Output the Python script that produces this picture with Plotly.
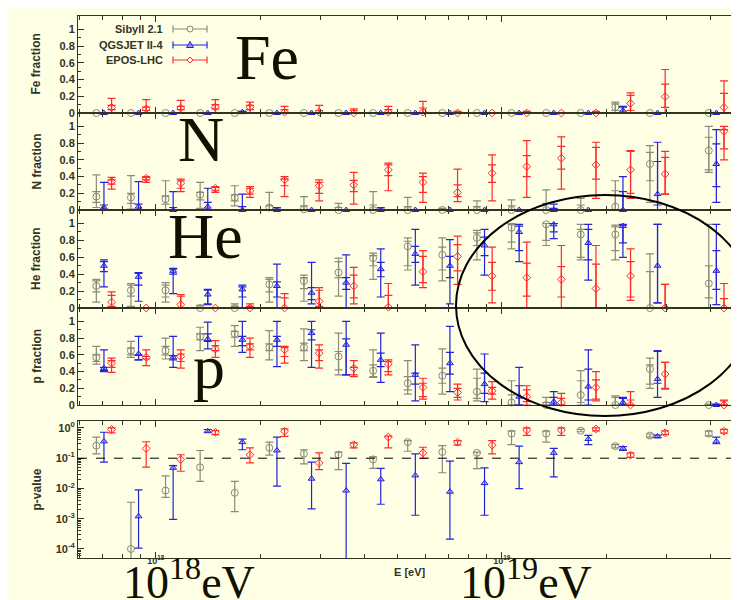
import plotly.graph_objects as go
from plotly.subplots import make_subplots

# ---------------- data ----------------
LOG_E = [17.85, 17.95, 18.05, 18.15, 18.25, 18.35, 18.45, 18.55, 18.65,
         18.75, 18.85, 18.95, 19.05, 19.15, 19.25, 19.35, 19.45, 19.62]
MODELS = ["Sibyll 2.1", "QGSJET II-4", "EPOS-LHC"]
PANELS = ["Fe", "N", "He", "p"]

# each entry: (value, outer_low, outer_high, inner_low, inner_high)
FE_SIBYLL = [(0, 0, 0, 0, 0)] * 15 + [(0.07, 0.0, 0.13, 0.03, 0.11), (0, 0, 0, 0, 0), (0, 0, 0, 0, 0)]
FE_QGSJET = [(0, 0, 0, 0, 0)] * 4 + [(0.01, 0, 0.02, 0, 0.02)] + [(0, 0, 0, 0, 0)] * 10 + \
            [(0.03, 0.0, 0.08, 0.0, 0.07), (0, 0, 0, 0, 0), (0, 0, 0, 0, 0)]
FE_EPOS = [(0.067, 0, 0.175, 0.04, 0.09), (0.05, 0, 0.16, 0.03, 0.07), (0.06, 0, 0.15, 0.04, 0.08),
           (0.07, 0, 0.16, 0.05, 0.10), (0.07, 0, 0.13, 0.04, 0.09), (0.01, 0, 0.08, 0, 0.04),
           (0.01, 0, 0.09, 0, 0.03), (0.0, 0, 0.05, 0, 0.03), (0.01, 0, 0.08, 0, 0.04),
           (0.01, 0, 0.14, 0, 0.06), (0, 0, 0.02, 0, 0.01), (0, 0, 0, 0, 0),
           (0, 0, 0.02, 0, 0.01), (0, 0, 0, 0, 0), (0, 0, 0.02, 0, 0.01),
           (0.115, 0.0, 0.24, 0.03, 0.21), (0.195, 0.0, 0.52, 0.067, 0.345), (0.067, 0, 0.385, 0, 0.234)]

N_SIBYLL = [(0.16, 0.03, 0.42, 0.09, 0.22), (0.15, 0.01, 0.41, 0.08, 0.20), (0.13, 0.0, 0.35, 0.07, 0.17),
            (0.18, 0.02, 0.33, 0.12, 0.21), (0.15, 0.05, 0.29, 0.11, 0.18), (0.03, 0.0, 0.21, 0.0, 0.05),
            (0.01, 0, 0.16, 0, 0.05), (0.0, 0, 0.08, 0, 0.03), (0.0, 0, 0.22, 0, 0.06),
            (0.0, 0, 0.15, 0, 0.04), (0, 0, 0.02, 0, 0.01), (0, 0, 0.11, 0, 0.04),
            (0, 0, 0.12, 0, 0.05), (0, 0, 0.24, 0, 0.08), (0, 0, 0.14, 0, 0.06),
            (0.04, 0, 0.35, 0.0, 0.23), (0.55, 0.09, 0.77, 0.35, 0.69), (0.71, 0.45, 1.0, 0.48, 0.87)]
N_QGSJET = [(0.03, 0, 0.33, 0, 0.06), (0.04, 0, 0.34, 0, 0.07), (0.0, 0, 0.22, 0, 0.03),
            (0.04, 0, 0.26, 0, 0.09), (0.0, 0, 0.19, 0, 0.04), (0, 0, 0.03, 0, 0.01),
            (0, 0, 0, 0, 0), (0, 0, 0, 0, 0), (0, 0, 0.03, 0, 0.01),
            (0, 0, 0, 0, 0), (0, 0, 0, 0, 0), (0, 0, 0, 0, 0),
            (0, 0, 0, 0, 0), (0, 0, 0.07, 0, 0.02), (0, 0, 0, 0, 0),
            (0, 0, 0.40, 0, 0.22), (0.19, 0.0, 0.81, 0.06, 0.58), (0.55, 0.09, 0.96, 0.28, 0.79)]
N_EPOS = [(0.34, 0.25, 0.39, 0.31, 0.36), (0.38, 0.33, 0.40, 0.36, 0.39), (0.32, 0.22, 0.37, 0.26, 0.35),
          (0.26, 0.21, 0.28, 0.23, 0.27), (0.23, 0.15, 0.28, 0.19, 0.26), (0.36, 0.16, 0.40, 0.29, 0.37),
          (0.29, 0.11, 0.36, 0.20, 0.33), (0.30, 0.07, 0.45, 0.22, 0.355), (0.48, 0.23, 0.56, 0.41, 0.54),
          (0.33, 0.09, 0.44, 0.21, 0.40), (0.21, 0.10, 0.49, 0.16, 0.30), (0.44, 0.11, 0.66, 0.33, 0.54),
          (0.52, 0.15, 0.83, 0.40, 0.65), (0.62, 0.25, 0.875, 0.49, 0.76), (0.54, 0.14, 0.81, 0.37, 0.75),
          (0.48, 0.14, 0.71, 0.20, 0.70), (0.43, 0.19, 0.70, 0.19, 0.63), (0.94, 0.60, 1.0, 0.73, 0.96)]

HE_SIBYLL = [(0.26, 0.07, 0.34, 0.19, 0.32), (0.21, 0.02, 0.29, 0.14, 0.27), (0.21, 0.07, 0.30, 0.13, 0.27),
             (0, 0, 0.03, 0, 0.01), (0, 0, 0.05, 0, 0.02), (0.28, 0.07, 0.36, 0.19, 0.34),
             (0.32, 0.08, 0.39, 0.23, 0.36), (0.42, 0.14, 0.59, 0.36, 0.55), (0.59, 0.34, 0.65, 0.50, 0.62),
             (0.73, 0.45, 0.83, 0.50, 0.79), (0.63, 0.32, 0.83, 0.45, 0.72), (0.83, 0.57, 0.92, 0.74, 0.89),
             (0.95, 0.70, 1.0, 0.78, 0.99), (0.99, 0.74, 1.0, 0.80, 1.0), (0.87, 0.57, 0.99, 0.60, 0.93),
             (0.87, 0.57, 0.98, 0.68, 0.96), (0.0, 0.0, 0.64, 0.0, 0.43), (0.29, 0.0, 0.99, 0.12, 0.50)]
HE_QGSJET = [(0.50, 0.25, 0.57, 0.43, 0.55), (0.37, 0.08, 0.42, 0.27, 0.41), (0.44, 0.17, 0.47, 0.40, 0.46),
             (0.16, 0.04, 0.22, 0.05, 0.21), (0.22, 0.0, 0.27, 0.13, 0.25), (0.26, 0.0, 0.52, 0.13, 0.31),
             (0.18, 0.05, 0.54, 0.10, 0.24), (0.30, 0.0, 0.63, 0.22, 0.36), (0.46, 0.13, 0.70, 0.37, 0.54),
             (0.64, 0.27, 0.93, 0.54, 0.73), (0.50, 0.05, 0.81, 0.36, 0.61), (0.74, 0.39, 0.93, 0.62, 0.84),
             (0.90, 0.55, 0.99, 0.68, 0.97), (0.99, 0.82, 1.0, 0.90, 1.0), (0.77, 0.33, 0.99, 0.57, 0.93),
             (0.97, 0.60, 0.99, 0.77, 0.98), (0.50, 0.06, 0.99, 0.06, 0.99), (0.44, 0.04, 0.99, 0.22, 0.68)]
HE_EPOS = [(0.07, 0.01, 0.19, 0.02, 0.15), (0, 0, 0, 0, 0), (0.04, 0, 0.16, 0, 0.14),
           (0, 0, 0, 0, 0), (0, 0, 0.05, 0, 0.02), (0, 0, 0.17, 0, 0.12),
           (0.08, 0, 0.24, 0.02, 0.21), (0.26, 0.05, 0.48, 0.12, 0.39), (0.01, 0, 0.29, 0, 0.15),
           (0.43, 0.24, 0.68, 0.30, 0.61), (0.61, 0.28, 0.85, 0.44, 0.75), (0.38, 0.06, 0.72, 0.21, 0.54),
           (0.36, 0.0, 0.78, 0.14, 0.53), (0.34, 0.0, 0.74, 0.13, 0.49), (0.23, 0.0, 0.74, 0.0, 0.52),
           (0.38, 0.09, 0.70, 0.13, 0.55), (0, 0, 0.28, 0, 0.28), (0, 0, 0.29, 0, 0.11)]

P_SIBYLL = [(0.57, 0.49, 0.70, 0.52, 0.60), (0.65, 0.57, 0.76, 0.60, 0.68), (0.65, 0.55, 0.80, 0.60, 0.70),
            (0.82, 0.65, 0.93, 0.78, 0.85), (0.85, 0.70, 0.95, 0.81, 0.88), (0.69, 0.54, 0.89, 0.65, 0.73),
            (0.69, 0.53, 0.91, 0.65, 0.74), (0.58, 0.36, 0.86, 0.42, 0.64), (0.41, 0.33, 0.66, 0.34, 0.48),
            (0.26, 0.13, 0.53, 0.18, 0.34), (0.35, 0.13, 0.67, 0.26, 0.44), (0.16, 0.05, 0.43, 0.08, 0.32),
            (0.03, 0.0, 0.29, 0.0, 0.12), (0.0, 0, 0.09, 0, 0.03), (0.12, 0.0, 0.41, 0.03, 0.29),
            (0, 0, 0.11, 0, 0.09), (0.43, 0.20, 0.56, 0.25, 0.48), (0, 0, 0.01, 0, 0.005)]
P_QGSJET = [(0.44, 0.40, 0.66, 0.41, 0.45), (0.61, 0.54, 0.82, 0.54, 0.60), (0.57, 0.45, 0.82, 0.54, 0.59),
            (0.79, 0.67, 0.99, 0.76, 0.85), (0.78, 0.63, 1.0, 0.71, 0.82), (0.78, 0.46, 1.0, 0.70, 0.82),
            (0.86, 0.45, 1.0, 0.78, 0.90), (0.72, 0.36, 1.0, 0.36, 0.79), (0.54, 0.27, 0.86, 0.46, 0.62),
            (0.36, 0.05, 0.72, 0.25, 0.38), (0.50, 0.16, 0.94, 0.37, 0.63), (0.25, 0.04, 0.61, 0.14, 0.38),
            (0.10, 0.0, 0.45, 0.0, 0.23), (0.04, 0.0, 0.16, 0.0, 0.09), (0.22, 0.0, 0.66, 0.06, 0.43),
            (0.03, 0.0, 0.09, 0, 0.08), (0.31, 0.09, 0.65, 0.26, 0.64), (0, 0, 0.01, 0, 0.005)]
P_EPOS = [(0.50, 0.39, 0.56, 0.45, 0.53), (0.57, 0.47, 0.66, 0.55, 0.58), (0.58, 0.44, 0.66, 0.52, 0.61),
          (0.67, 0.57, 0.77, 0.65, 0.71), (0.70, 0.57, 0.80, 0.66, 0.73), (0.66, 0.50, 0.70, 0.58, 0.69),
          (0.62, 0.44, 0.72, 0.53, 0.66), (0.44, 0.34, 0.53, 0.36, 0.45), (0.49, 0.36, 0.54, 0.40, 0.52),
          (0.21, 0.07, 0.32, 0.10, 0.26), (0.15, 0.06, 0.25, 0.09, 0.20), (0.17, 0.07, 0.28, 0.13, 0.21),
          (0.10, 0.0, 0.23, 0.04, 0.18), (0.03, 0.0, 0.14, 0.0, 0.08), (0.21, 0.05, 0.40, 0.07, 0.30),
          (0, 0, 0.16, 0, 0.06), (0.37, 0.19, 0.51, 0.20, 0.51), (0, 0, 0.06, 0, 0.05)]

# p-value: (value, low, high)
PV_SIBYLL = [(0.26, 0.14, 0.5), (1e-4, 1e-5, 3.5e-3), (8.5e-3, 5.1e-3, 0.026), (0.05, 0.017, 0.18),
             (7.2e-3, 1.7e-3, 0.017), (0.22, 0.126, 0.34), (0.14, 0.065, 0.19), (0.13, 0.042, 0.16),
             (0.091, 0.046, 0.11), (0.34, 0.17, 0.38), (0.16, 0.033, 0.26), (0.15, 0.045, 0.16),
             (0.65, 0.28, 0.78), (0.65, 0.34, 0.78), (0.81, 0.75, 0.9), (0.25, 0.22, 0.28),
             (0.56, 0.5, 0.63), (0.65, 0.55, 0.78)]
PV_QGSJET = [(0.36, 0.074, 0.72), (1.2e-3, 1.07e-4, 8.9e-3), (0.048, 9.5e-4, 0.057), (0.78, 0.72, 0.89),
             (0.34, 0.19, 0.43), (0.18, 0.012, 0.5), (0.021, 2.1e-3, 0.074), (8.5e-3, 1e-5, 0.067),
             (0.02, 3e-3, 0.046), (0.027, 1.3e-3, 0.14), (7.8e-3, 2.1e-4, 0.08), (0.015, 1.3e-3, 0.048),
             (0.074, 9.8e-3, 0.25), (0.15, 0.024, 0.21), (0.43, 0.28, 0.57), (0.21, 0.18, 0.24),
             (0.53, 0.48, 0.58), (0.36, 0.3, 0.5)]
PV_EPOS = [(0.89, 0.69, 1.0), (0.21, 0.051, 0.35), (0.091, 0.037, 0.13), (0.72, 0.6, 0.82),
           (0.13, 0.07, 0.22), (0.78, 0.53, 0.93), (0.07, 0.042, 0.15), (0.28, 0.22, 0.32),
           (0.5, 0.22, 0.54), (0.15, 0.098, 0.23), (0.34, 0.27, 0.38), (0.27, 0.14, 0.38),
           (0.84, 0.57, 1.0), (0.84, 0.57, 1.0), (0.93, 0.8, 1.0), (0.126, 0.107, 0.15),
           (0.69, 0.6, 0.8), (0.78, 0.67, 0.9)]
PV_THRESHOLD = 0.1

# ---------------- styling ----------------
W, H = 739, 600
BG = "#FFFFE6"
INK = "#333322"
COLORS = ["#8a8a78", "#2424dd", "#ff2a2a"]
SHIFTS = [-0.022, 0.0, 0.022]
SYMBOLS = ["circle-open", "triangle-up", "diamond-open"]
SIZES = [7, 6, 6]

def px(x):
    return x / W

def py(y):
    return 1 - y / H

PANEL_PX = [(8, 105), (105, 202), (202, 300), (300, 397), (413, 550)]
X_RANGE = [17.775, 19.697]

fig = make_subplots(rows=5, cols=1, shared_xaxes=True, vertical_spacing=0)

frac_data = [
    [FE_SIBYLL, FE_QGSJET, FE_EPOS],
    [N_SIBYLL, N_QGSJET, N_EPOS],
    [HE_SIBYLL, HE_QGSJET, HE_EPOS],
    [P_SIBYLL, P_QGSJET, P_EPOS],
]
pv_data = [PV_SIBYLL, PV_QGSJET, PV_EPOS]


def marker_for(i):
    if i == 1:
        return dict(symbol=SYMBOLS[i], size=SIZES[i], color="rgba(120,120,255,0.5)",
                    line=dict(color=COLORS[i], width=1))
    return dict(symbol=SYMBOLS[i], size=SIZES[i], color=COLORS[i], line=dict(color=COLORS[i], width=1))


for r, panel in enumerate(frac_data, start=1):
    for i, data in enumerate(panel):
        xs = [10.0 ** (e + SHIFTS[i]) for e in LOG_E]
        v = [d[0] for d in data]
        fig.add_trace(go.Scatter(
            x=xs, y=v, mode="markers", marker=marker_for(i), cliponaxis=False,
            showlegend=False, name=MODELS[i],
            error_y=dict(type="data", symmetric=False,
                         array=[d[2] - d[0] for d in data],
                         arrayminus=[d[0] - d[1] for d in data],
                         color=COLORS[i], thickness=1.2, width=4)), row=r, col=1)
        fig.add_trace(go.Scatter(
            x=xs, y=v, mode="markers", marker=dict(size=1, color="rgba(0,0,0,0)"),
            cliponaxis=False, showlegend=False, hoverinfo="skip",
            error_y=dict(type="data", symmetric=False,
                         array=[d[4] - d[0] for d in data],
                         arrayminus=[d[0] - d[3] for d in data],
                         color=COLORS[i], thickness=1.2, width=4)), row=r, col=1)

for i, data in enumerate(pv_data):
    xs = [10.0 ** (e + SHIFTS[i]) for e in LOG_E]
    v = [d[0] for d in data]
    fig.add_trace(go.Scatter(
        x=xs, y=v, mode="markers", marker=marker_for(i), showlegend=False, name=MODELS[i],
        error_y=dict(type="data", symmetric=False,
                     array=[d[2] - d[0] for d in data],
                     arrayminus=[d[0] - d[1] for d in data],
                     color=COLORS[i], thickness=1.2, width=4)), row=5, col=1)

fig.add_hline(y=PV_THRESHOLD, row=5, col=1, line=dict(color="black", width=1, dash="dash"))

tickfont = dict(family="Liberation Sans", size=11, color=INK, weight="bold")
axis_common = dict(showline=True, linecolor=INK, linewidth=1, mirror="allticks", ticks="inside",
                   tickcolor=INK, ticklen=6, showgrid=False, zeroline=False, automargin=False,
                   tickfont=tickfont)

minor_x = [k * 10.0 ** n for n in (17, 18, 19) for k in range(2, 10)]
for r in range(1, 6):
    fig.update_xaxes(type="log", range=X_RANGE, domain=[px(70), px(735)],
                     tickvals=[1e18, 1e19], ticktext=["10<sup>18</sup>", "10<sup>19</sup>"],
                     minor=dict(ticks="inside", ticklen=4, tickcolor=INK, tickvals=minor_x),
                     showticklabels=(r == 5), row=r, col=1, **axis_common)
    fig.update_xaxes(tickfont=dict(family="Liberation Sans", size=9, color=INK),
                     ticklabelstandoff=-6, row=r, col=1)

for r in range(1, 5):
    top, bot = PANEL_PX[r - 1]
    fig.update_yaxes(range=[0, 1.16], domain=[py(bot), py(top)],
                     tickvals=[0, 0.2, 0.4, 0.6, 0.8, 1.0],
                     ticktext=["0", "0.2", "0.4", "0.6", "0.8", "1"],
                     minor=dict(ticks="inside", ticklen=3, tickcolor=INK,
                                tickvals=[0.1, 0.3, 0.5, 0.7, 0.9]),
                     row=r, col=1, **axis_common)

minor_y = [k * 10.0 ** n for n in (-5, -4, -3, -2, -1) for k in range(2, 10)]
top, bot = PANEL_PX[4]
fig.update_yaxes(type="log", range=[-4.3, 0.23], domain=[py(bot), py(top)],
                 tickvals=[1e-4, 1e-3, 1e-2, 1e-1, 1.0],
                 ticktext=["10<sup>-4</sup>", "10<sup>-3</sup>", "10<sup>-2</sup>", "10<sup>-1</sup>", "10<sup>0</sup>"],
                 minor=dict(ticks="inside", ticklen=3, tickcolor=INK, tickvals=minor_y),
                 row=5, col=1, **axis_common)

annotations = []
# y-axis titles
for name, (top, bot) in zip(["Fe fraction", "N fraction", "He fraction", "p fraction", "p-value"], PANEL_PX):
    annotations.append(dict(text="<b>%s</b>" % name, x=px(28), y=py((top + bot) / 2), xref="paper", yref="paper",
                            textangle=-90, showarrow=False, xanchor="center", yanchor="middle",
                            font=dict(family="Liberation Sans", size=12, color=INK)))
annotations.append(dict(text="<b>E [eV]</b>", x=px(402), y=py(572), xref="paper", yref="paper",
                        showarrow=False, font=dict(family="Liberation Sans", size=11, color=INK)))

# big element labels
big_font = dict(family="Liberation Serif", size=64, color="#111100")
for txt, cx, cy in [("Fe", 259, 49), ("N", 193, 132), ("He", 197, 229), ("p", 201, 358)]:
    annotations.append(dict(text=txt, x=px(cx), y=py(cy), xref="paper", yref="paper", showarrow=False,
                            xanchor="center", yanchor="middle", font=big_font))
for txt, cx in [("10<sup>18</sup>eV", 181), ("10<sup>19</sup>eV", 518)]:
    annotations.append(dict(text=txt, x=px(cx), y=py(571), xref="paper", yref="paper", showarrow=False,
                            xanchor="center", yanchor="middle",
                            font=dict(family="Liberation Serif", size=46, color="#111100")))

# legend (manual, text then symbol like the original)
shapes = []
leg_y = [21, 37, 52]
for i, name in enumerate(MODELS):
    y = leg_y[i]
    annotations.append(dict(text="<b>%s</b>" % name, x=px(157), y=py(y), xref="paper", yref="paper",
                            showarrow=False, xanchor="right", yanchor="middle",
                            font=dict(family="Liberation Sans", size=11, color=INK)))
    c = COLORS[i]
    shapes.append(dict(type="line", xref="paper", yref="paper", x0=px(165), x1=px(199), y0=py(y), y1=py(y),
                       line=dict(color=c, width=1.2)))
    for xc in (165, 199):
        shapes.append(dict(type="line", xref="paper", yref="paper", x0=px(xc), x1=px(xc),
                           y0=py(y - 3.5), y1=py(y + 3.5), line=dict(color=c, width=1.2)))
    if i == 0:
        shapes.append(dict(type="circle", xref="paper", yref="paper", x0=px(179), x1=px(185),
                           y0=py(y + 3), y1=py(y - 3), line=dict(color=c, width=1), fillcolor=BG))
    elif i == 1:
        path = "M %f %f L %f %f L %f %f Z" % (px(182), py(y - 3.5), px(178.5), py(y + 2.5), px(185.5), py(y + 2.5))
        shapes.append(dict(type="path", xref="paper", yref="paper", path=path,
                           line=dict(color=c, width=1), fillcolor="rgba(120,120,255,0.7)"))
    else:
        path = "M %f %f L %f %f L %f %f L %f %f Z" % (px(182), py(y - 3), px(185), py(y),
                                                     px(182), py(y + 3), px(179), py(y))
        shapes.append(dict(type="path", xref="paper", yref="paper", path=path,
                           line=dict(color=c, width=1), fillcolor=BG))

# hand-drawn ellipse highlighting the high-energy region
shapes.append(dict(type="circle", xref="paper", yref="paper", layer="above",
                   x0=px(448), x1=px(746), y0=py(408), y1=py(187),
                   line=dict(color="black", width=2)))

fig.update_layout(
    width=W, height=H, margin=dict(l=0, r=0, t=0, b=0),
    paper_bgcolor=BG, plot_bgcolor=BG, showlegend=False,
    annotations=list(fig.layout.annotations) + annotations,
)
for s in shapes:
    fig.add_shape(**s)

fig.write_html("out.html")
